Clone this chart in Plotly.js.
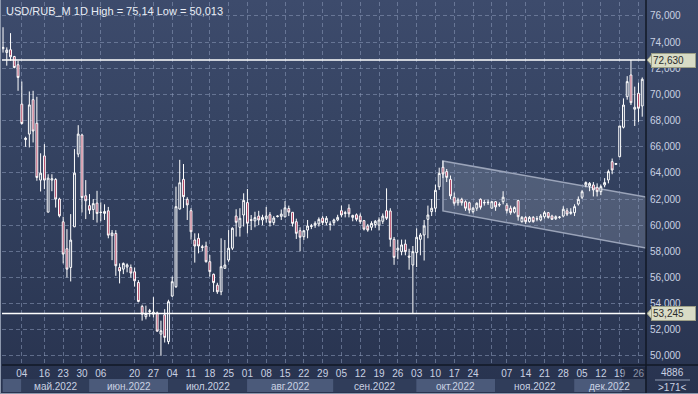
<!DOCTYPE html>
<html>
<head>
<meta charset="utf-8">
<script src="https://cdn.plot.ly/plotly-3.0.1.min.js"></script>
<style>
  html, body { margin:0; padding:0; }
  #wrap { position:relative; width:698px; height:394px; overflow:hidden;
          background: linear-gradient(to bottom, #3d4b6c 0%, #33415f 45%, #28334f 100%); }
  #chart { position:absolute; left:0; top:0; width:698px; height:394px; }
  #edgeL { position:absolute; left:0; top:0; width:1px; height:394px; background:#8d98ad; }
  #edgeB { position:absolute; left:0; top:393px; width:698px; height:1px; background:#8d98ad; }
</style>
</head>
<body>
<div id="wrap"><div id="chart"></div><div id="edgeL"></div><div id="edgeB"></div></div>
<script>
// ---- trading days (Moscow exchange), 2022 ----
const daysApr = [25,26,27,28,29];
const daysMay = [4,5,6,11,12,13,16,17,18,19,20,23,24,25,26,27,30,31];
const daysJun = [1,2,3,6,7,8,9,10,14,15,16,17,20,21,22,23,24,27,28,29,30];
const daysJul = [1,4,5,6,7,8,11,12,13,14,15,18,19,20,21,22,25,26,27,28,29];
const daysAug = [1,2,3,4,5,8,9,10,11,12,15,16,17,18,19,22,23,24,25,26,29,30,31];
const daysSep = [1,2,5,6,7,8,9,12,13,14,15,16,19,20,21,22,23,26,27,28,29,30];
const daysOct = [3,4,5,6,7,10,11,12,13,14,17,18,19,20,21,24,25,26,27,28,31];
const daysNov = [1,2,3,7,8,9,10,11,14,15,16,17,18,21,22,23,24,25,28,29,30];
const daysDec = [1,2,5,6,7,8,9,12,13,14,15,16,19,20,21,22,23,26,27];

// ---- OHLC values ----
const opens = [
73.5,73.21,73.42,72.9,72.27,69.26,66.55,66.97,69.6,67.8,
63.45,65.3,61.0,63.45,63.5,62.0,60.26,58.2,56.77,59.88,
65.44,66.9,62.25,61.5,61.2,61.69,61.0,60.9,61.1,59.2,
59.37,56.77,56.64,56.8,56.77,56.44,55.62,53.79,53.0,53.4,
53.2,53.3,51.67,53.15,51.1,54.58,55.3,61.24,63.51,61.98,
61.11,58.87,59.0,58.36,58.41,57.21,56.25,55.42,54.91,56.7,
57.34,58.24,60.7,59.84,60.78,61.73,60.42,60.33,60.7,60.4,
60.5,60.8,60.2,60.66,60.68,60.64,61.28,60.99,60.27,59.58,
59.12,59.63,59.9,60.0,60.1,60.55,60.2,60.1,60.2,60.4,
61.11,60.9,61.3,60.6,60.8,60.7,60.35,59.94,59.84,60.05,
60.0,60.3,61.11,61.09,58.92,58.1,57.98,58.56,57.64,56.96,
57.9,58.92,59.25,60.45,61.04,61.3,62.94,64.43,64.1,63.51,
62.14,61.72,61.98,61.8,61.72,61.04,61.3,61.98,61.7,61.72,
61.3,61.8,61.6,61.8,61.53,61.3,61.0,61.88,60.27,60.6,
60.27,60.6,60.5,60.4,60.65,60.96,60.7,60.5,60.6,60.7,
61.1,60.9,60.96,61.62,62.14,63.08,63.0,63.08,62.9,62.57,
63.08,63.46,64.86,64.65,65.24,67.49,69.83,71.49,68.87,70.09,
69.12];
const highs = [
75.14,73.6,74.69,72.95,72.57,70.99,66.77,70.23,70.28,69.82,
65.5,66.2,63.9,63.9,63.6,62.1,60.65,59.7,60.85,65.82,
67.65,67.0,63.45,62.38,62.0,62.63,61.75,61.6,61.4,59.63,
59.62,57.08,57.15,57.08,57.0,56.77,55.8,53.92,53.85,53.6,
54.5,53.4,52.7,53.58,54.3,56.07,62.95,65.0,64.68,62.14,
61.3,59.38,59.38,58.5,58.74,57.72,56.3,55.6,59.0,58.87,
59.63,59.84,61.22,61.3,62.44,62.77,60.78,61.03,61.1,60.8,
61.4,61.0,60.7,60.75,61.2,61.84,61.5,61.0,60.5,59.84,
59.63,60.4,60.1,60.3,60.6,60.7,60.7,60.3,60.5,60.8,
61.5,61.1,61.6,60.8,60.9,60.9,60.4,60.1,60.3,60.4,
60.6,60.9,62.82,61.3,59.1,58.9,58.9,58.9,58.2,58.41,
59.76,59.4,60.4,61.5,62.0,63.1,64.4,64.93,64.3,63.8,
62.5,62.1,62.1,61.9,61.8,61.4,61.75,62.05,61.95,61.95,
61.85,61.85,61.75,62.6,61.7,61.5,61.45,61.95,60.7,60.7,
60.7,60.7,60.7,60.85,61.1,61.0,60.8,60.75,60.7,61.45,
61.3,61.3,61.6,62.2,62.7,63.35,63.3,63.3,63.2,63.1,
63.6,64.25,65.1,64.75,67.59,69.7,71.4,72.63,70.6,70.9,
71.3];
const lows = [
73.2,72.2,72.57,72.0,70.28,67.7,66.0,65.95,66.33,63.4,
62.58,62.76,60.98,62.6,61.35,60.6,57.08,56.0,55.7,59.85,
65.2,60.98,60.47,60.85,60.4,60.2,60.3,60.4,59.0,57.33,
56.13,55.55,56.26,56.4,56.0,55.3,54.1,52.7,52.8,53.0,
52.95,51.85,50.013,51.03,50.9,54.53,55.2,61.2,61.32,60.4,
58.9,57.14,57.85,58.0,57.14,56.07,54.9,54.75,54.65,56.7,
57.2,58.1,59.13,59.13,59.9,59.38,59.63,59.84,60.0,60.0,
60.2,59.9,60.0,60.6,60.4,60.6,60.7,59.9,58.95,58.0,
58.87,59.0,59.7,59.8,59.9,60.0,60.0,59.6,60.0,60.3,
60.6,60.6,60.6,60.3,60.3,60.1,59.6,59.5,59.6,59.8,
59.6,60.1,60.4,58.36,56.97,57.4,57.7,57.7,56.6,53.245,
56.8,57.7,57.3,59.0,60.7,61.0,62.7,63.6,63.3,62.0,
61.5,61.5,61.5,61.1,60.9,60.9,61.1,61.2,61.5,61.55,
61.3,61.1,61.4,61.6,60.9,60.8,60.9,60.35,60.2,60.1,
60.2,60.2,60.3,60.3,60.5,60.5,60.4,60.4,60.5,60.6,
60.7,60.8,60.7,61.5,62.0,62.9,62.6,62.2,62.2,62.3,
62.9,63.2,63.9,64.6,65.2,67.4,69.6,69.19,67.59,67.9,
68.3];
const closes = [
73.6,73.39,72.88,72.06,71.3,67.78,66.65,69.2,67.2,63.65,
63.98,63.45,63.6,63.55,62.0,60.72,57.79,56.64,58.86,63.98,
66.97,62.12,61.87,61.15,61.65,60.9,60.97,61.05,59.24,59.4,
56.9,56.5,57.08,56.97,56.34,55.75,54.17,53.2,53.25,53.45,
53.35,51.9,51.93,51.42,54.15,55.68,61.42,63.25,62.18,61.55,
59.5,58.41,58.41,58.3,57.21,56.45,55.61,54.91,56.83,56.96,
58.24,59.77,60.22,60.53,61.9,60.15,60.38,60.58,60.4,60.6,
60.7,60.2,60.55,60.7,60.85,61.33,61.0,60.14,59.38,59.08,
59.58,59.94,59.95,60.15,60.45,60.2,60.53,60.05,60.4,60.6,
60.78,60.95,60.87,60.75,60.45,60.27,59.7,59.63,60.14,60.3,
60.4,60.7,60.53,58.92,57.54,58.24,58.49,57.98,57.56,57.98,
59.08,59.25,59.94,60.78,61.3,62.67,63.96,63.92,63.66,62.24,
61.68,61.93,61.72,61.3,61.16,61.3,61.68,61.37,61.74,61.75,
61.8,61.4,61.55,62.14,61.11,60.96,61.35,60.65,60.6,60.27,
60.6,60.27,60.48,60.7,60.96,60.6,60.45,60.65,60.62,61.22,
60.85,61.0,61.42,61.98,62.56,63.26,63.2,62.7,62.57,62.95,
63.26,64.1,64.22,64.72,67.59,69.19,70.98,69.37,69.02,68.94,
71.16];

// ---- axis labels ----
const weekTicks = ['2022-05-04','2022-05-16','2022-05-23','2022-05-30','2022-06-06','2022-06-20','2022-06-27',
  '2022-07-04','2022-07-11','2022-07-18','2022-07-25','2022-08-01','2022-08-08','2022-08-15','2022-08-22','2022-08-29',
  '2022-09-05','2022-09-12','2022-09-19','2022-09-26','2022-10-03','2022-10-10','2022-10-17','2022-10-24','2022-10-31',
  '2022-11-07','2022-11-14','2022-11-21','2022-11-28','2022-12-05','2022-12-12','2022-12-19','2022-12-26'];
const weekTickText = ['04','16','23','30','06','20','27','04','11','18','25','01','08','15','22','29',
  '05','12','19','26','03','10','17','24','','07','14','21','28','05','12','19','26'];
const monthNames = ['','май.2022','июн.2022','июл.2022','авг.2022','сен.2022','окт.2022','ноя.2022','дек.2022'];
const priceTicks = [50,52,54,56,58,60,62,64,66,68,70,72,74,76];
const priceTickText = ['50,000','52,000','54,000','56,000','58,000','60,000','62,000','64,000','66,000','68,000','70,000','72,000','74,000','76,000'];
const levelHigh = 72.630, levelLow = 53.245;
const levelHighText = '72,630', levelLowText = '53,245';
const titleText = 'USD/RUB_M 1D High = 75,14 Low = 50,013';
const barCountText = '>171<', volText = '4886';
// channel: [date index, upper price, lower price] at start and end
const channelStart = [117.0, 64.91, 61.09];
const channelEnd   = [171.0, 62.16, 58.26];

// build dates
const monthDays = [daysApr,daysMay,daysJun,daysJul,daysAug,daysSep,daysOct,daysNov,daysDec];
const dates = [];
const monthSpans = [];
monthDays.forEach((arr, m) => {
  const mm = String(m + 4).padStart(2,'0');
  const start = dates.length;
  arr.forEach(d => dates.push('2022-' + mm + '-' + String(d).padStart(2,'0')));
  monthSpans.push([start, dates.length - 1]);
});

const trace = {
  type: 'candlestick',
  x: dates, open: opens, high: highs, low: lows, close: closes,
  increasing: {line: {color: '#ffffff', width: 1}, fillcolor: '#33415f'},
  decreasing: {line: {color: '#ffffff', width: 1}, fillcolor: '#ab2a4e'},
  whiskerwidth: 0,
  hoverinfo: 'skip',
  showlegend: false
};

const font = {family: 'Liberation Sans, Arial, sans-serif', size: 10, color: '#c9d1e2'};
const plotH = 394 - 2 - 29, plotW = 698 - 2 - 52;
const py = p => (365 - p) / plotH;   // pixel row -> paper y
const px = p => (p - 2) / plotW;     // pixel col -> paper x

const shapes = [];
const annotations = [];

// month band
monthSpans.forEach((s, k) => {
  shapes.push({type:'rect', xref:'x', yref:'paper', x0: s[0]-0.5+0.4, x1: s[1]+0.5+0.4,
    y0: py(392), y1: py(379), fillcolor: (k % 2 === 0) ? '#4b5a7a' : '#303d5a', line:{width:0}, layer:'above'});
  if (monthNames[k]) annotations.push({xref:'x', yref:'paper', x: (s[0]+s[1])/2 + 0.4, y: py(386),
    text: monthNames[k], showarrow:false, font: font, xanchor:'center', yanchor:'middle', borderpad:0});
});
// darker overlay at right end of time scale
shapes.push({type:'rect', xref:'x', yref:'paper', x0: 164.6, x1: 171.2, y0: py(392), y1: py(367),
  fillcolor:'rgba(18,24,40,0.35)', line:{width:0}, layer:'above'});

// horizontal levels with price tags
[[levelHigh, levelHighText],[levelLow, levelLowText]].forEach(([v, t]) => {
  shapes.push({type:'line', xref:'paper', yref:'y', x0:0, x1:1, y0:v, y1:v, line:{color:'#ffffff', width:1.5}, layer:'above'});
  shapes.push({type:'path', xref:'paper', yref:'y', fillcolor:'#d9dcc6', line:{color:'#9d9f86', width:1},
    path: 'M' + px(647) + ',' + v + ' L' + px(652) + ',' + (v+0.42) + ' L' + px(652) + ',' + (v-0.42) + ' Z', layer:'above'});
  annotations.push({xref:'paper', yref:'y', x: px(651), y: v, text: t, showarrow:false, xanchor:'left', yanchor:'middle',
    bgcolor:'#d9dcc6', bordercolor:'#9d9f86', borderwidth:1, borderpad:1, width:41, align:'left',
    font:{family:font.family, size:10, color:'#2a2a2a'}});
});

// channel
shapes.push({type:'path', xref:'x', yref:'y', layer:'below',
  path: 'M' + channelStart[0] + ',' + channelStart[1] + ' L' + channelEnd[0] + ',' + channelEnd[1] +
        ' L' + channelEnd[0] + ',' + channelEnd[2] + ' L' + channelStart[0] + ',' + channelStart[2] + ' Z',
  fillcolor:'rgba(200,208,225,0.20)', line:{color:'rgba(185,193,212,0.75)', width:1.5}});

// frame lines
shapes.push({type:'line', xref:'paper', yref:'paper', x0:0, x1:px(698), y0:0, y1:0, line:{color:'#121826', width:1.5}, layer:'above'});
shapes.push({type:'line', xref:'paper', yref:'paper', x0:1, x1:1, y0:py(394), y1:py(0), line:{color:'#121826', width:1.5}, layer:'above'});
shapes.push({type:'line', xref:'paper', yref:'paper', x0:px(655), x1:px(690), y0:py(380), y1:py(380), line:{color:'#8e99b0', width:1}, layer:'above'});

annotations.push({xref:'paper', yref:'paper', x: px(672), y: py(372), text: volText, showarrow:false,
  xanchor:'center', yanchor:'middle', font: font, borderpad:0});
annotations.push({xref:'paper', yref:'paper', x: px(672), y: py(387), text: barCountText, showarrow:false,
  xanchor:'center', yanchor:'middle', font: font, borderpad:0});
annotations.push({xref:'paper', yref:'paper', x: 0, y: 1, xshift: 2, yshift: -1, text: titleText, showarrow:false,
  xanchor:'left', yanchor:'top', font:{family:font.family, size:11, color:'#e9edf5'}});

const layout = {
  width: 698, height: 394,
  margin: {l:2, r:52, t:2, b:29, pad:0},
  paper_bgcolor: 'rgba(0,0,0,0)', plot_bgcolor: 'rgba(0,0,0,0)',
  showlegend: false,
  xaxis: {type:'category', range:[-0.27, 171.0], tickmode:'array', tickvals: weekTicks, ticktext: weekTickText,
    showgrid:true, gridcolor:'rgba(140,155,185,0.55)', griddash:'4px,3px', gridwidth:1,
    ticks:'', ticklabelstandoff:1, tickfont: font, showline:false, zeroline:false, rangeslider:{visible:false}, fixedrange:true,
    tickangle:0},
  yaxis: {side:'right', range:[49.31, 77.07], tickmode:'array', tickvals: priceTicks, ticktext: priceTickText,
    showgrid:true, gridcolor:'rgba(140,155,185,0.55)', griddash:'4px,3px', gridwidth:1,
    ticks:'', ticklabelstandoff:3, tickfont: font, showline:false, zeroline:false, fixedrange:true},
  shapes: shapes,
  annotations: annotations
};

Plotly.newPlot('chart', [trace], layout, {displayModeBar:false, staticPlot:true});
</script>
</body>
</html>
